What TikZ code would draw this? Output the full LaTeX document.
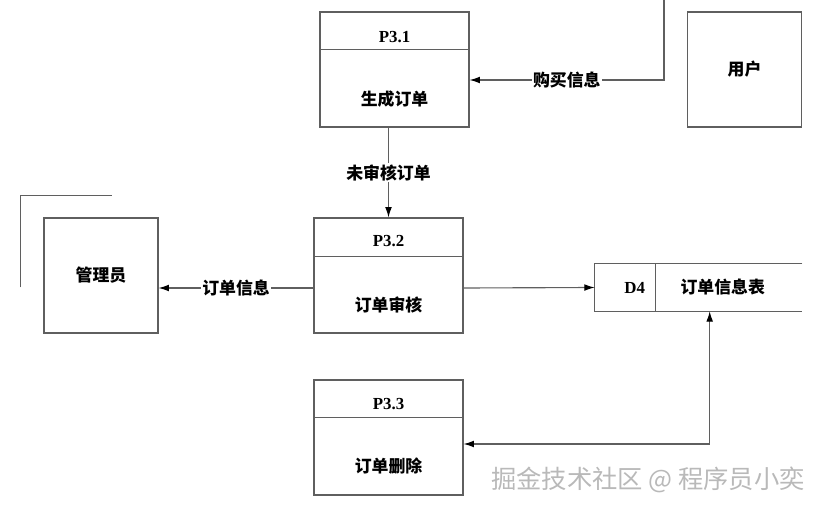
\documentclass[tikz,border=0pt]{standalone}
\usepackage{fontspec}
\setmainfont{Liberation Serif}
\newfontfamily\cjk{Noto Sans CJK SC}
\usetikzlibrary{arrows.meta, calc, positioning}
\definecolor{linegray}{RGB}{95,95,95}

\tikzset{
    proc/.style={draw=linegray, line width=0.8pt, minimum width=3.725cm, minimum height=2.875cm, inner sep=0pt},
    ent/.style={draw=linegray, line width=0.8pt, minimum width=2.85cm, minimum height=2.875cm, inner sep=0pt, font=\cjk\bfseries\fontsize{12}{14}\selectfont},
    lbl/.style={font=\cjk\bfseries\fontsize{12}{14}\selectfont},
    pid/.style={font=\bfseries\fontsize{12}{14}\selectfont},
    flow/.style={draw=linegray, line width=0.8pt, -{Latex[length=2.6mm, width=1.7mm, color=black]}},
    tag/.style={fill=white, inner sep=1pt, font=\cjk\bfseries\fontsize{12}{14}\selectfont}
}

\begin{document}
\begin{tikzpicture}[x=0.025cm, y=-0.025cm]
    \useasboundingbox (0,0) rectangle (820,510);

    % Processes
    \node[proc] (p31) at (394.5,69.5) {};
    \node[proc] (p32) at (388.5,275.5) {};
    \node[proc] (p33) at (388.5,437.5) {};
    \draw[linegray, line width=0.8pt] ($(p31.north west)+(0,38)$) -- ($(p31.north east)+(0,38)$);
    \draw[linegray, line width=0.8pt] ($(p32.north west)+(0,39)$) -- ($(p32.north east)+(0,39)$);
    \draw[linegray, line width=0.8pt] ($(p33.north west)+(0,38)$) -- ($(p33.north east)+(0,38)$);
    \node[pid] at ($(p31.north)+(0,26)$) {P3.1};
    \node[lbl] at ($(p31.north)+(0,88)$) {生成订单};
    \node[pid] at ($(p32.north)+(0,24)$) {P3.2};
    \node[lbl] at ($(p32.north)+(0,88)$) {订单审核};
    \node[pid] at ($(p33.north)+(0,25)$) {P3.3};
    \node[lbl] at ($(p33.north)+(0,87)$) {订单删除};

    % Entities
    \node[ent] (user) at (744.5,69.5) {用户};
    \node[ent] (admin) at (101,275.5) {管理员};
    \draw[linegray, line width=0.8pt] ($(admin.north west)+(-23,70)$) |- ($(admin.north west)+(69,-22)$);

    % Data store
    \node[minimum width=5.175cm, minimum height=1.175cm, inner sep=0pt] (d4) at (698.5,287.5) {};
    \draw[linegray, line width=0.8pt] (d4.north east) -- (d4.north west) -- (d4.south west) -- (d4.south east);
    \draw[linegray, line width=0.8pt] ($(d4.north west)+(61,0)$) -- ($(d4.south west)+(61,0)$);
    \node[pid] at ($(d4.west)+(40,0)$) {D4};
    \node[lbl] at ($(d4.west)+(128,0)$) {订单信息表};

    % Flows
    \coordinate (buy) at (664,0);
    \draw[flow] (buy) |- ($(p31.east)+(0,10.5)$) node[tag, pos=0.75] {购买信息};
    \draw[flow] (p31.south -| p32.north) -- (p32.north) node[tag, midway] {未审核订单};
    \draw[flow] ($(p32.west)+(0,12.5)$) -- ($(admin.east)+(0,12.5)$) node[tag, midway] {订单信息};
    \draw[flow] ($(p32.east)+(0,12.5)$) -- (d4.west);
    \draw[flow, {Latex[length=2.6mm, width=1.7mm, color=black]}-{Latex[length=2.6mm, width=1.7mm, color=black]}] ($(p33.east)+(0,6.5)$) -| ($(d4.south west)+(115,0)$);

    % Watermark
    \node[text=gray!55, font=\cjk\fontsize{18}{20}\selectfont] at (648,480) {掘金技术社区 @ 程序员小奕};
\end{tikzpicture}
\end{document}
